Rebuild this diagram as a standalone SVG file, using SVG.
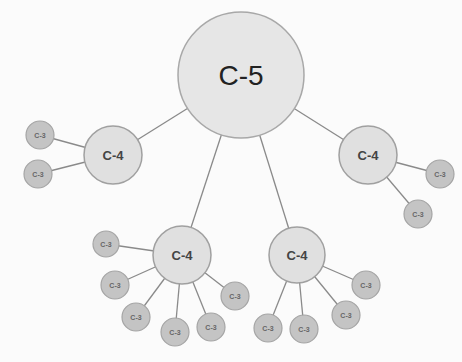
<svg xmlns="http://www.w3.org/2000/svg" width="462" height="362" viewBox="0 0 462 362">
<style>
.e{stroke:#8a8a8a;stroke-width:1.3;fill:none}
.big{fill:#e6e6e6;stroke:#a8a8a8;stroke-width:1.5}
.mid{fill:#e0e0e0;stroke:#a0a0a0;stroke-width:1.5}
.sm{fill:#c4c4c4;stroke:#a5a5a5;stroke-width:1.2}
text{font-family:"Liberation Sans",Arial,sans-serif;text-anchor:middle;fill:#222}
.t5{font-size:28px}
.t4{font-size:13px;font-weight:bold;fill:#444}
.t3{font-size:7px;font-weight:bold;fill:#666}
</style>
<rect width="462" height="362" fill="#fbfbfb"/>
<g id="connectors">
<line class="e" x1="241" y1="75" x2="113" y2="155"/>
<line class="e" x1="241" y1="75" x2="368" y2="155"/>
<line class="e" x1="241" y1="75" x2="182" y2="255"/>
<line class="e" x1="241" y1="75" x2="297" y2="255"/>
<line class="e" x1="113" y1="155" x2="40" y2="135"/>
<line class="e" x1="113" y1="155" x2="38" y2="174"/>
<line class="e" x1="368" y1="155" x2="440" y2="174"/>
<line class="e" x1="368" y1="155" x2="418" y2="214"/>
<line class="e" x1="182" y1="255" x2="106" y2="244"/>
<line class="e" x1="182" y1="255" x2="115" y2="285"/>
<line class="e" x1="182" y1="255" x2="136" y2="317"/>
<line class="e" x1="182" y1="255" x2="175" y2="332"/>
<line class="e" x1="182" y1="255" x2="211" y2="327"/>
<line class="e" x1="182" y1="255" x2="235" y2="296"/>
<line class="e" x1="297" y1="255" x2="366" y2="285"/>
<line class="e" x1="297" y1="255" x2="346" y2="315"/>
<line class="e" x1="297" y1="255" x2="304" y2="329"/>
<line class="e" x1="297" y1="255" x2="268" y2="328"/>
</g>
<g id="n-root"><circle class="big" cx="241" cy="75" r="63"/><text class="t5" x="241" y="85">C-5</text></g>
<g id="n-l"><circle class="mid" cx="113" cy="155" r="29"/><text class="t4" x="113" y="160">C-4</text></g>
<g id="n-r"><circle class="mid" cx="368" cy="155" r="29"/><text class="t4" x="368" y="160">C-4</text></g>
<g id="n-bl"><circle class="mid" cx="182" cy="255" r="29"/><text class="t4" x="182" y="260">C-4</text></g>
<g id="n-br"><circle class="mid" cx="297" cy="255" r="28"/><text class="t4" x="297" y="260">C-4</text></g>
<g id="s1"><circle class="sm" cx="40" cy="135" r="14"/><text class="t3" x="40" y="138">C-3</text></g>
<g id="s2"><circle class="sm" cx="38" cy="174" r="14"/><text class="t3" x="38" y="177">C-3</text></g>
<g id="s3"><circle class="sm" cx="440" cy="174" r="14"/><text class="t3" x="440" y="177">C-3</text></g>
<g id="s4"><circle class="sm" cx="418" cy="214" r="14"/><text class="t3" x="418" y="217">C-3</text></g>
<g id="s5"><circle class="sm" cx="106" cy="244" r="13"/><text class="t3" x="106" y="247">C-3</text></g>
<g id="s6"><circle class="sm" cx="115" cy="285" r="14"/><text class="t3" x="115" y="288">C-3</text></g>
<g id="s7"><circle class="sm" cx="136" cy="317" r="14"/><text class="t3" x="136" y="320">C-3</text></g>
<g id="s8"><circle class="sm" cx="175" cy="332" r="14"/><text class="t3" x="175" y="335">C-3</text></g>
<g id="s9"><circle class="sm" cx="211" cy="327" r="14"/><text class="t3" x="211" y="330">C-3</text></g>
<g id="s10"><circle class="sm" cx="235" cy="296" r="14"/><text class="t3" x="235" y="299">C-3</text></g>
<g id="s11"><circle class="sm" cx="366" cy="285" r="14"/><text class="t3" x="366" y="288">C-3</text></g>
<g id="s12"><circle class="sm" cx="346" cy="315" r="14"/><text class="t3" x="346" y="318">C-3</text></g>
<g id="s13"><circle class="sm" cx="304" cy="329" r="14"/><text class="t3" x="304" y="332">C-3</text></g>
<g id="s14"><circle class="sm" cx="268" cy="328" r="14"/><text class="t3" x="268" y="331">C-3</text></g>
</svg>
